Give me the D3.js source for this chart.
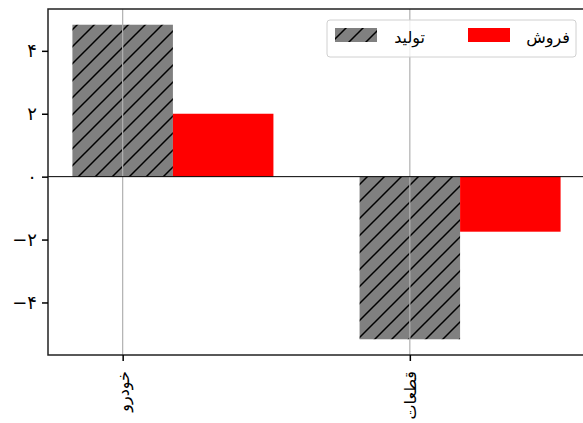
<!DOCTYPE html>
<html lang="fa">
<head>
<meta charset="UTF-8">
<title>Bars</title>
<style>
    body { margin: 0; background: #fff; }
    text { font-family: "DejaVu Sans", sans-serif; }
</style>
</head>
<body>
<svg id="main" width="583" height="423"></svg>
<script src="https://cdn.jsdelivr.net/npm/d3@7"></script>
<script>
var categories = ["خودرو", "قطعات"];
var production = [4.83, -5.17];
var sales = [2.0, -1.75];
var seriesNames = ["تولید", "فروش"];
var yTicks = [-4, -2, 0, 2, 4];

var faDigits = "۰۱۲۳۴۵۶۷۸۹";
function toFa(v) {
    var s = String(Math.abs(v)).replace(/[0-9]/g, function(d) { return faDigits[+d]; });
    return (v < 0 ? "\u2212" : "") + s;
}

var svg = d3.select("#main");
var pLeft = 48, pTop = 9, pRight = 585, pBottom = 355;
var barW = 0.35;

var x = d3.scaleLinear().domain([-0.26, 1.61]).range([pLeft, pRight]);
var y = d3.scaleLinear().domain([-5.67, 5.33]).range([pBottom, pTop]);

// hatch pattern
var defs = svg.append("defs");
var pat = defs.append("pattern")
    .attr("id", "hatch")
    .attr("patternUnits", "userSpaceOnUse")
    .attr("width", 17).attr("height", 17);
pat.append("rect").attr("width", 17).attr("height", 17).attr("fill", "#808080");
pat.append("path")
    .attr("d", "M0,17 L17,0 M-4,4 L4,-4 M13,21 L21,13")
    .attr("stroke", "#000").attr("stroke-width", 1.5);

defs.append("clipPath").attr("id", "plotclip")
    .append("rect").attr("x", pLeft).attr("y", pTop)
    .attr("width", pRight - pLeft).attr("height", pBottom - pTop);

var plot = svg.append("g").attr("clip-path", "url(#plotclip)");

// bars
plot.selectAll(".prod").data(production).enter().append("rect")
    .attr("x", function(d, i) { return x(i - barW / 2); })
    .attr("width", function() { return x(barW) - x(0); })
    .attr("y", function(d) { return y(Math.max(0, d)); })
    .attr("height", function(d) { return Math.abs(y(d) - y(0)); })
    .attr("fill", "url(#hatch)");

plot.selectAll(".sale").data(sales).enter().append("rect")
    .attr("x", function(d, i) { return x(i + barW / 2); })
    .attr("width", function() { return x(barW) - x(0); })
    .attr("y", function(d) { return y(Math.max(0, d)); })
    .attr("height", function(d) { return Math.abs(y(d) - y(0)); })
    .attr("fill", "#ff0000");

// vertical grid
plot.selectAll(".grid").data(categories).enter().append("line")
    .attr("x1", function(d, i) { return x(i); })
    .attr("x2", function(d, i) { return x(i); })
    .attr("y1", pTop).attr("y2", pBottom)
    .attr("stroke", "#b0b0b0").attr("stroke-width", 1.2);

// zero line
plot.append("line")
    .attr("x1", pLeft).attr("x2", pRight)
    .attr("y1", y(0)).attr("y2", y(0))
    .attr("stroke", "#000").attr("stroke-width", 1);

// frame
svg.append("rect")
    .attr("x", pLeft).attr("y", pTop)
    .attr("width", pRight - pLeft).attr("height", pBottom - pTop)
    .attr("fill", "none").attr("stroke", "#222").attr("stroke-width", 1.5);

// y axis
var yAxis = svg.append("g")
    .attr("transform", "translate(" + pLeft + ",0)")
    .call(d3.axisLeft(y).tickValues(yTicks).tickSize(6).tickPadding(5).tickFormat(toFa));
yAxis.select(".domain").remove();
yAxis.selectAll("line").attr("stroke-width", 1.5);
yAxis.selectAll("text").attr("font-size", 18).attr("font-family", "DejaVu Sans");

// x axis
var xAxis = svg.append("g")
    .attr("transform", "translate(0," + pBottom + ")")
    .call(d3.axisBottom(x).tickValues([0, 1]).tickSize(6)
        .tickFormat(function(d) { return categories[d]; }));
xAxis.select(".domain").remove();
xAxis.selectAll("line").attr("stroke-width", 1.5);
xAxis.selectAll("text")
    .attr("font-size", 16)
    .attr("font-family", "DejaVu Sans")
    .attr("text-anchor", "end")
    .attr("dy", "0.35em")
    .attr("transform", "translate(0,16) rotate(-90)")
    .attr("x", 0).attr("y", 0);

// legend
var lg = svg.append("g");
lg.append("rect")
    .attr("x", 327).attr("y", 20).attr("width", 249).attr("height", 37)
    .attr("rx", 3)
    .attr("fill", "#fff").attr("fill-opacity", 0.8)
    .attr("stroke", "#d0d0d0");
var items = [
    { name: seriesNames[0], fill: "url(#hatch)", px: 335, tx: 425 },
    { name: seriesNames[1], fill: "#ff0000", px: 468, tx: 570 }
];
items.forEach(function(it) {
    lg.append("rect")
        .attr("x", it.px).attr("y", 28).attr("width", 42).attr("height", 14)
        .attr("fill", it.fill);
    lg.append("text")
        .attr("x", it.tx).attr("y", 38)
        .attr("dy", "0.3em")
        .attr("text-anchor", "end")
        .attr("font-size", 16)
        .text(it.name);
});
</script>
</body>
</html>
